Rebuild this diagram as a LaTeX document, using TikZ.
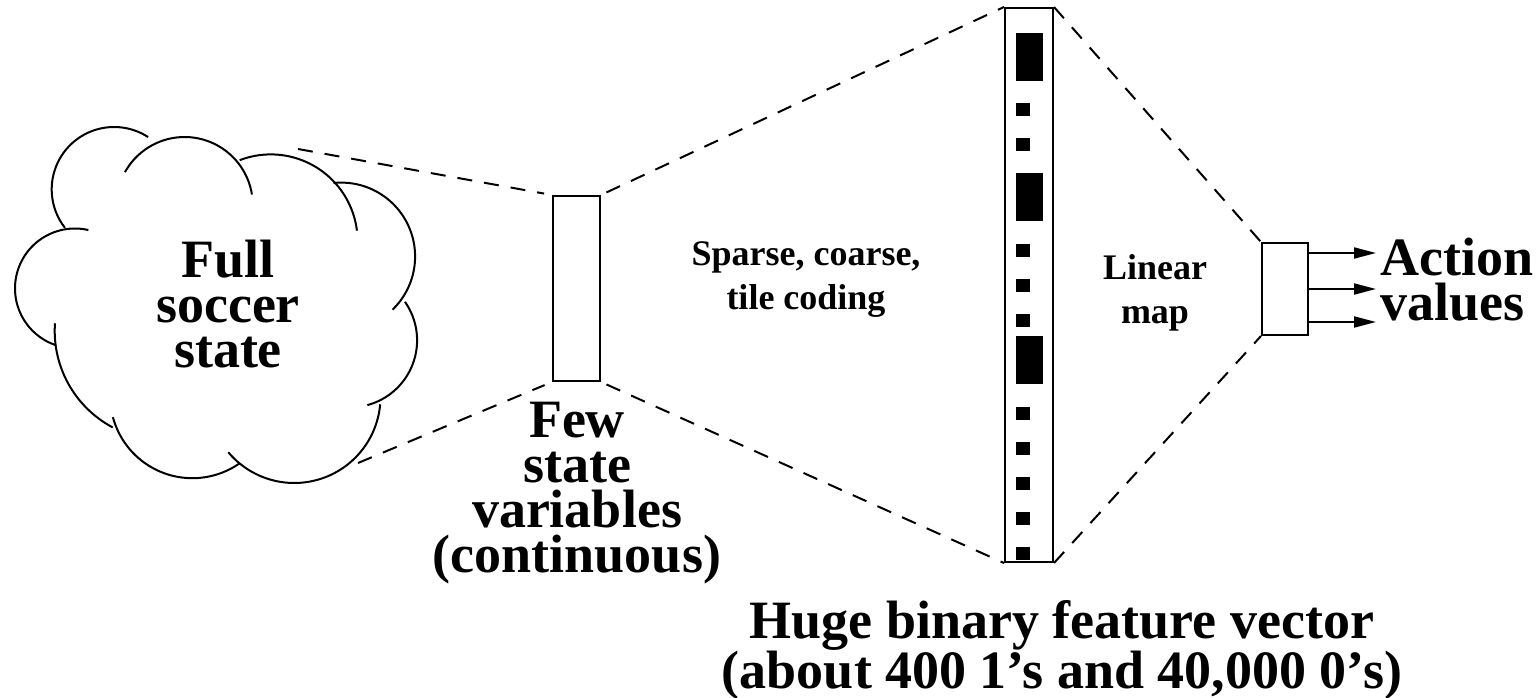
\documentclass[tikz,border=0pt]{standalone}
\usepackage{fontspec}
\setmainfont{Liberation Serif}
\usetikzlibrary{arrows.meta}
\tikzset{
  wire/.style={line width=2pt},
  proj/.style={line width=2pt, dash pattern=on 15pt off 12pt},
  vecbox/.style={draw, line width=2pt, inner sep=0pt},
  bigtext/.style={align=center, inner sep=0pt, font=\fontsize{54}{45}\selectfont\bfseries},
  smalltext/.style={align=center, inner sep=0pt, font=\fontsize{36}{44}\selectfont\bfseries},
  outarrow/.style={line width=2pt, -{Triangle[length=22pt,width=11pt]}}
}
\begin{document}
\begin{tikzpicture}[x=1pt,y=-1pt]
\useasboundingbox (0,0) rectangle (1540,698);
% the cloud, one arc per puff: centre / radius / from / to
\foreach \cx/\cy/\r/\a/\b in {114.1/189.4/62.4/142/303, 184.6/205.2/68.2/209/351,
    270.8/241.2/86.8/249/353, 341.2/256.5/73.9/264/406, 350/340.3/67.1/-35/75,
    294.3/396.8/86.2/5/140, 192.4/395.9/82.3/55/165, 164/330.9/109.3/118/184,
    74.9/288.4/59.9/109/283}
  \draw [wire] plot [domain=\a:\b, samples=40, smooth] ({\cx+\r*cos(\x)}, {\cy+\r*sin(\x)});
\coordinate (c1) at (298,149);
\coordinate (c2) at (358,463);
\node [bigtext, anchor=north] (fulllbl) at (228,240) {Full\\soccer\\state};

% boxes
\node [vecbox, minimum width=47pt, minimum height=185pt] (few) at (576.5,288.5) {};
\node [vecbox, minimum width=48pt, minimum height=554pt] (feat) at (1029,285) {};
\node [vecbox, minimum width=46pt, minimum height=92pt] (act) at (1285,289) {};

% the bits of the feature vector
\foreach \y in {110,145,250,285,320,413,448,483,518,553}
  \fill (1016,\y-6.5) rectangle (1030,\y+6.5);
\foreach \y in {57,197,360}
  \fill (1016,\y-24) rectangle (1043,\y+24);

% projections
\draw [proj, shorten >=8pt] (c1) -- (few.north west);
\draw [proj, shorten >=8pt] (c2) -- (few.south west);
\draw [proj, shorten <=6pt] (few.north east) -- (feat.north west);
\draw [proj, shorten <=6pt] (few.south east) -- (feat.south west);
\draw [proj] (feat.north east) -- (act.north west);
\draw [proj] (feat.south east) -- (act.south west);

% outputs
\coordinate (a1) at (1376,253);
\coordinate (a2) at (1376,289);
\coordinate (a3) at (1376,322);
\draw [outarrow] (act.east |- a1) -- (a1);
\draw [outarrow] (act.east |- a2) -- (a2);
\draw [outarrow] (act.east |- a3) -- (a3);

% labels
\node [bigtext, anchor=north] (fewlbl) at (577,402) {Few\\state\\variables\\(continuous)};
\node [bigtext, anchor=north] (hugelbl) at (1062,600) {Huge binary feature vector\\(about 400 1's and 40,000 0's)};
\node [smalltext, anchor=north] (codelbl) at (806,241) {Sparse, coarse,\\tile coding};
\node [smalltext, anchor=north] (maplbl) at (1155,254) {Linear\\map};
\node [bigtext, align=left, anchor=north west] (actlbl) at (1380,238) {Action\\values};
\end{tikzpicture}
\end{document}
